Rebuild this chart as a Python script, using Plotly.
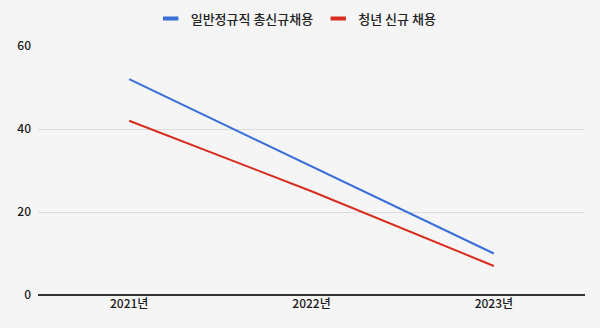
import plotly.graph_objects as go

years = ["2021년", "2022년", "2023년"]
regular_total = [52, 31, 10]
youth_new = [42, 25, 7]
series_names = ["일반정규직 총신규채용", "청년 신규 채용"]
colors = ["#3a6fd8", "#d62d20"]
y_ticks = [0, 20, 40, 60]

fig = go.Figure()
for name, vals, c in zip(series_names, [regular_total, youth_new], colors):
    fig.add_trace(go.Scatter(x=years, y=vals, mode="lines", name=name,
                             line=dict(color=c, width=2), showlegend=False))
    fig.add_trace(go.Scatter(x=[None], y=[None], mode="markers", name=name,
                             marker=dict(symbol="line-ew-open", size=11, color=c,
                                         line=dict(color=c, width=4)),
                             showlegend=True))

fig.update_layout(
    width=600, height=328,
    paper_bgcolor="#f5f5f5", plot_bgcolor="#f5f5f5",
    margin=dict(l=38, r=15, t=46, b=33, autoexpand=False),
    font=dict(family="Noto Sans CJK KR, Noto Sans, sans-serif", size=12, color="#222"),
    legend=dict(orientation="h", x=0.472, xanchor="center", y=1.11, yanchor="middle",
                font=dict(size=13, color="#222", weight=500), itemwidth=30,
                tracegroupgap=0, bgcolor="rgba(0,0,0,0)"),
    showlegend=True,
)
fig.update_xaxes(showgrid=False, showline=False, zeroline=False, ticks="",
                 range=[-0.5, 2.5], tickfont=dict(size=12, color="#1a1a1a", weight=500))
fig.update_yaxes(range=[0, 60], tickvals=y_ticks, showgrid=True, gridcolor="#dcdcdc",
                 gridwidth=1, zeroline=True, zerolinecolor="#333", zerolinewidth=2,
                 showline=False, ticks="", ticklabelstandoff=6,
                 tickfont=dict(size=12, color="#1a1a1a", weight=500))

fig.write_html("out.html")
